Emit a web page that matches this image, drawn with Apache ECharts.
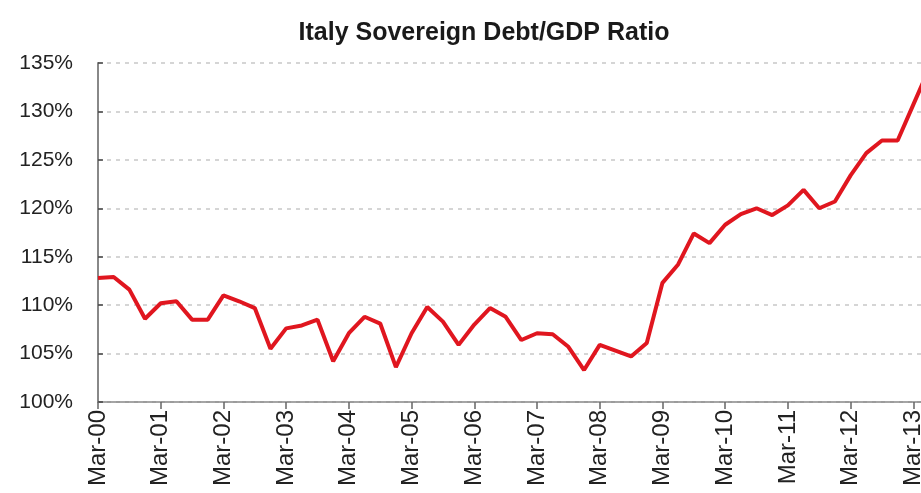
<!DOCTYPE html>
<html>
<head>
<meta charset="utf-8">
<script src="https://cdn.jsdelivr.net/npm/echarts@6/dist/echarts.min.js"></script>
<style>
html,body{margin:0;padding:0;background:#fff;overflow:hidden;width:921px;height:493px;}
#chart{width:929px;height:493px;}
</style>
</head>
<body>
<div id="chart"></div>
<script>
var titleText = 'Italy Sovereign Debt/GDP Ratio';
var quarters = [];
var years = ['00','01','02','03','04','05','06','07','08','09','10','11','12','13'];
var months = ['Mar','Jun','Sep','Dec'];
years.forEach(function (y) { months.forEach(function (m) { quarters.push(m + '-' + y); }); });
var categories = quarters.slice(0, 54);
var debtRatio = [
  112.8, 112.9, 111.6, 108.6,
  110.2, 110.4, 108.5, 108.5,
  111.0, 110.4, 109.7, 105.5,
  107.6, 107.9, 108.5, 104.2,
  107.1, 108.8, 108.1, 103.6,
  107.1, 109.8, 108.3, 105.9,
  108.0, 109.7, 108.8, 106.4,
  107.1, 107.0, 105.7, 103.3,
  105.9, 105.3, 104.7, 106.1,
  112.3, 114.2, 117.4, 116.4,
  118.3, 119.4, 120.0, 119.3,
  120.3, 121.9, 120.0, 120.7,
  123.4, 125.7, 127.0, 127.0,
  130.7, 134.4
];
var yMin = 100, yMax = 135, yStep = 5;

var chart = echarts.init(document.getElementById('chart'), null, {renderer: 'canvas'});
chart.setOption({
  backgroundColor: '#ffffff',
  animation: false,
  title: {
    text: titleText,
    left: 479,
    top: 16,
    textAlign: 'center',
    textStyle: {fontFamily: 'Liberation Sans, Arial, sans-serif', fontSize: 25, fontWeight: 'bold', color: '#1a1a1a'}
  },
  grid: {left: 98, top: 63, right: 0, height: 339, containLabel: false},
  xAxis: {
    type: 'category',
    data: categories,
    boundaryGap: false,
    axisLine: {show: true, lineStyle: {color: '#888', width: 1.5}},
    axisTick: {show: true, interval: 3, length: 7, inside: false, lineStyle: {color: '#666', width: 1.5}},
    axisLabel: {
      interval: 3, rotate: 90, margin: 8,
      fontFamily: 'Liberation Sans, Arial, sans-serif', fontSize: 24, color: '#222'
    },
    splitLine: {show: false}
  },
  yAxis: {
    type: 'value',
    min: yMin, max: yMax, interval: yStep,
    axisLine: {show: true, lineStyle: {color: '#888', width: 2}},
    axisTick: {show: true, inside: true, length: 5, lineStyle: {color: '#444', width: 1.5}},
    axisLabel: {
      formatter: '{value}%', margin: 25,
      fontFamily: 'Liberation Sans, Arial, sans-serif', fontSize: 21, color: '#222'
    },
    splitLine: {show: true, lineStyle: {color: '#c8c8c8', type: [4, 5], width: 1.5}}
  },
  series: [{
    type: 'line',
    data: debtRatio,
    symbol: 'none',
    smooth: false,
    lineStyle: {color: '#e0161f', width: 4},
    clip: true
  }]
});
</script>
</body>
</html>
